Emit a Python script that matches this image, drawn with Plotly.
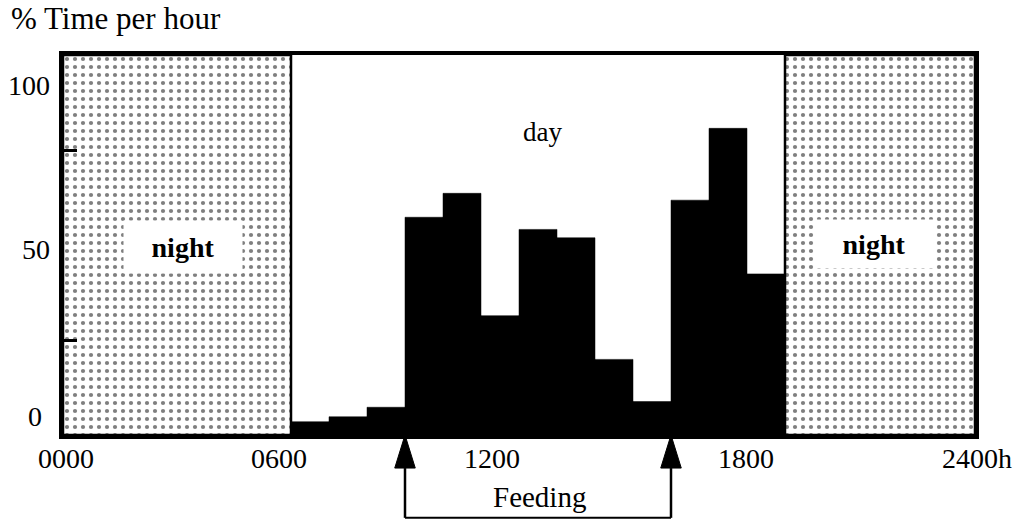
import plotly.graph_objects as go

# ---- data ----
HOUR_START = [6, 7, 8, 9, 10, 11, 12, 13, 14, 15, 16, 17, 18]
PCT_TIME = [3.5, 4.8, 7.3, 57.3, 63.6, 31.4, 54.1, 51.9, 19.9, 8.8, 61.8, 80.7, 42.4]
NIGHT_START = [0, 19]
NIGHT_END = [6, 24]
FEEDING_TIMES = [9, 16]
X_TICK_HOURS = [0, 6, 12, 18, 24]
X_TICK_LABELS = ["0000", "0600", "1200", "1800", "2400h"]
Y_TICK_VALUES = [0, 50, 100]
Y_TICK_LABELS = ["0", "50", "100"]
Y_MINOR_TICKS = [25, 75]

FONT = "Liberation Serif"
FS = 28

fig = go.Figure()

# night background (dotted)
fig.add_trace(go.Bar(
    x=[(s + e) / 2 for s, e in zip(NIGHT_START, NIGHT_END)],
    y=[100] * len(NIGHT_START),
    width=[e - s for s, e in zip(NIGHT_START, NIGHT_END)],
    marker=dict(color="white",
                pattern=dict(shape=".", fgcolor="black", bgcolor="white",
                             size=8, solidity=0.22),
                line=dict(color="black", width=2.5)),
    showlegend=False, hoverinfo="skip",
))

# hourly bars
fig.add_trace(go.Bar(
    x=[h + 0.5 for h in HOUR_START],
    y=PCT_TIME,
    width=[1] * len(HOUR_START),
    marker=dict(color="black", line=dict(color="black", width=0.5)),
    showlegend=False,
))

annotations = []
# y labels (placed as in the reference, slightly offset from their ticks)
y_label_pos = {"0": (-0.0307, 5, "center"), "50": (-0.012, 48.7, "right"), "100": (-0.012, 92, "right")}
for v, lab in zip(Y_TICK_VALUES, Y_TICK_LABELS):
    px, py, anc = y_label_pos[lab]
    annotations.append(dict(text=lab, xref="paper", yref="y", x=px, y=py,
                            xanchor=anc, yanchor="middle", showarrow=False,
                            font=dict(family=FONT, size=FS, color="black")))
# x labels (paper positions as placed in the reference)
x_label_paper = [0.0033, 0.237, 0.470, 0.749, 1.002]
for h, lab, xp in zip(X_TICK_HOURS, X_TICK_LABELS, x_label_paper):
    annotations.append(dict(text=lab, xref="paper", yref="paper", x=xp, y=-0.062,
                            xanchor="center", yanchor="middle", showarrow=False,
                            font=dict(family=FONT, size=FS, color="black")))

annotations += [
    dict(text="% Time per hour", xref="paper", yref="paper", x=-0.059, y=1.097,
         xanchor="left", yanchor="middle", showarrow=False,
         font=dict(family=FONT, size=31, color="black")),
    dict(text="day", xref="x", yref="y", x=12.63, y=79.7, showarrow=False,
         font=dict(family=FONT, size=27, color="black")),
    dict(text="<b>night</b>", xref="x", yref="y", x=3.15, y=49.5, showarrow=False,
         bgcolor="white", width=116, height=50,
         font=dict(family=FONT, size=FS, color="black")),
    dict(text="<b>night</b>", xref="x", yref="y", x=21.35, y=50.2, showarrow=False,
         bgcolor="white", width=116, height=46,
         font=dict(family=FONT, size=FS, color="black")),
    dict(text="Feeding", xref="x", yref="paper", x=12.55, y=-0.163,
         xanchor="center", yanchor="middle", showarrow=False,
         font=dict(family=FONT, size=29, color="black")),
]

shapes = []
head_base = -0.087
bracket_y = -0.218
half_w = 0.27
for t in FEEDING_TIMES:
    shapes.append(dict(type="path", xref="x", yref="paper",
                       path=f"M {t - half_w},{head_base} L {t},0 L {t + half_w},{head_base} Z",
                       fillcolor="black", line=dict(color="black", width=1)))
    shapes.append(dict(type="line", xref="x", yref="paper", x0=t, x1=t,
                       y0=head_base, y1=bracket_y, line=dict(color="black", width=2.5)))
shapes.append(dict(type="line", xref="x", yref="paper", x0=FEEDING_TIMES[0], x1=FEEDING_TIMES[1],
                   y0=bracket_y, y1=bracket_y, line=dict(color="black", width=2)))

fig.update_layout(
    width=1018, height=519,
    margin=dict(l=63, r=43, t=55, b=84),
    paper_bgcolor="white", plot_bgcolor="white",
    barmode="overlay",
    showlegend=False,
    annotations=annotations,
    shapes=shapes,
    xaxis=dict(range=[0, 24], showgrid=False, zeroline=False, showline=True,
               linecolor="black", linewidth=4, mirror=True, ticks="",
               showticklabels=False, fixedrange=True),
    yaxis=dict(range=[0, 100], showgrid=False, zeroline=False, showline=True,
               linecolor="black", linewidth=4, mirror=True, ticks="inside",
               tickvals=Y_MINOR_TICKS, ticklen=14, tickwidth=3, tickcolor="black",
               showticklabels=False, fixedrange=True),
)

fig.write_html("out.html", config={"displayModeBar": False},
               post_script="document.body.style.margin='0px';document.body.style.overflow='hidden';")
